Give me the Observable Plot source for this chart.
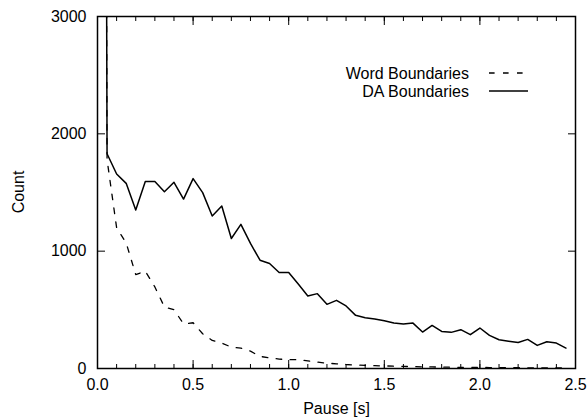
<!DOCTYPE html>
<html><head><meta charset="utf-8">
<script src="https://cdn.jsdelivr.net/npm/d3@7"></script>
<script src="https://cdn.jsdelivr.net/npm/@observablehq/plot@0.6"></script>
<style>
body{margin:0;background:#fff;}
#chart{position:relative;width:587px;height:418px;}
</style></head><body><div id="chart"></div>
<script>
const pause = [0, 0.05, 0.1, 0.15, 0.2, 0.25, 0.3, 0.35, 0.4, 0.45, 0.5, 0.55, 0.6, 0.65, 0.7, 0.75, 0.8, 0.85, 0.9, 0.95,
  1.0, 1.05, 1.1, 1.15, 1.2, 1.25, 1.3, 1.35, 1.4, 1.45, 1.5, 1.55, 1.6, 1.65, 1.7, 1.75, 1.8, 1.85, 1.9, 1.95,
  2.0, 2.05, 2.1, 2.15, 2.2, 2.25, 2.3, 2.35, 2.4, 2.45];
const daCounts = [30000, 1830, 1658, 1578, 1350, 1593, 1593, 1507, 1587, 1444, 1618, 1499, 1299, 1385, 1108, 1228, 1066, 923, 895, 818,
  818, 720, 618, 638, 547, 581, 533, 453, 433, 422, 407, 387, 379, 387, 311, 367, 316, 308, 331, 288,
  345, 282, 245, 233, 222, 248, 197, 228, 217, 174];
const wordCounts = [30000, 1780, 1200, 1070, 800, 830, 695, 524, 501, 380, 390, 296, 239, 217, 182, 174, 148, 103, 91, 80,
  75, 75, 65, 55, 45, 40, 34, 30, 26, 24, 22, 20, 18, 16, 14, 13, 12, 11, 10, 10,
  9, 8, 8, 7, 7, 6, 6, 5, 5, 5];
const seriesNames = ["Word Boundaries", "DA Boundaries"];
const xMajorTicks = [0, 0.5, 1.0, 1.5, 2.0, 2.5];
const xMinorTicks = [0, 0.1, 0.2, 0.3, 0.4, 0.5, 0.6, 0.7, 0.8, 0.9, 1.0, 1.1, 1.2, 1.3, 1.4, 1.5, 1.6, 1.7, 1.8, 1.9, 2.0, 2.1, 2.2, 2.3, 2.4, 2.5];
const yTicks = [0, 1000, 2000, 3000];
const xLabel = "Pause [s]";
const yLabel = "Count";

const font = "'Liberation Sans', Arial, Helvetica, sans-serif";
const fs = 16;
const dash = "5.6,8.4";

const word = pause.map((t, i) => ({t, v: wordCounts[i]}));
const da = pause.map((t, i) => ({t, v: daCounts[i]}));

function legend(index, scales, values, dim) {
  const g = d3.create("svg:g").attr("font-family", font).attr("font-size", fs).attr("fill", "black");
  const right = dim.width - dim.marginRight;
  const textX = right - 106, x1 = right - 86, x2 = right - 47;
  const rows = [{name: seriesNames[0], y: 73, dash: dash}, {name: seriesNames[1], y: 91, dash: null}];
  for (const r of rows) {
    g.append("text").attr("x", textX).attr("y", r.y).attr("dy", "0.35em").attr("text-anchor", "end").text(r.name);
    const l = g.append("line").attr("x1", x1).attr("x2", x2).attr("y1", r.y).attr("y2", r.y)
      .attr("stroke", "black").attr("stroke-width", 1.5);
    if (r.dash) l.attr("stroke-dasharray", r.dash);
  }
  return g.node();
}

function yTitle(index, scales, values, dim) {
  const cy = dim.marginTop + (dim.height - dim.marginTop - dim.marginBottom) / 2;
  const t = d3.create("svg:text")
    .attr("font-family", font).attr("font-size", fs).attr("fill", "black")
    .attr("text-anchor", "middle").attr("dy", "0.35em")
    .attr("transform", `translate(${dim.marginLeft - 79},${cy}) rotate(-90)`)
    .text(yLabel);
  return t.node();
}

const chart = Plot.plot({
  width: 587,
  height: 418,
  marginLeft: 97,
  marginRight: 12,
  marginTop: 16,
  marginBottom: 50,
  style: {fontFamily: font, fontSize: fs + "px", color: "black", background: "white"},
  x: {domain: [0, 2.5]},
  y: {domain: [0, 3000]},
  marks: [
    Plot.line(word, {x: "t", y: "v", stroke: "black", strokeWidth: 1.3, strokeDasharray: dash, clip: true}),
    Plot.line(da, {x: "t", y: "v", stroke: "black", strokeWidth: 1.5, clip: true}),
    Plot.axisX(xMinorTicks, {anchor: "bottom", tickSize: -4, tickFormat: () => "", label: null, strokeWidth: 1}),
    Plot.axisX(xMajorTicks, {anchor: "bottom", tickSize: -8, tickFormat: () => "", label: null, strokeWidth: 1}),
    Plot.axisX(xMinorTicks, {anchor: "top", tickSize: -4, tickFormat: () => "", label: null, strokeWidth: 1}),
    Plot.axisX(xMajorTicks, {anchor: "top", tickSize: -8, tickFormat: () => "", label: null, strokeWidth: 1}),
    Plot.axisX(xMajorTicks, {anchor: "bottom", tickSize: 0, tickPadding: 10, tickFormat: d3.format(".1f"), label: null, fontSize: fs}),
    Plot.axisY(yTicks, {anchor: "left", tickSize: -8, tickFormat: () => "", label: null, strokeWidth: 1}),
    Plot.axisY(yTicks, {anchor: "right", tickSize: -8, tickFormat: () => "", label: null, strokeWidth: 1}),
    Plot.axisY(yTicks, {anchor: "left", tickSize: 0, tickPadding: 11, tickFormat: d3.format("d"), label: null, fontSize: fs}),
    Plot.frame({stroke: "black", strokeWidth: 1.5}),
    Plot.text([xLabel], {frameAnchor: "bottom", dy: 45, fontSize: fs, fill: "black"}),
    yTitle,
    legend
  ]
});
document.getElementById("chart").appendChild(chart);
</script>
</body></html>
